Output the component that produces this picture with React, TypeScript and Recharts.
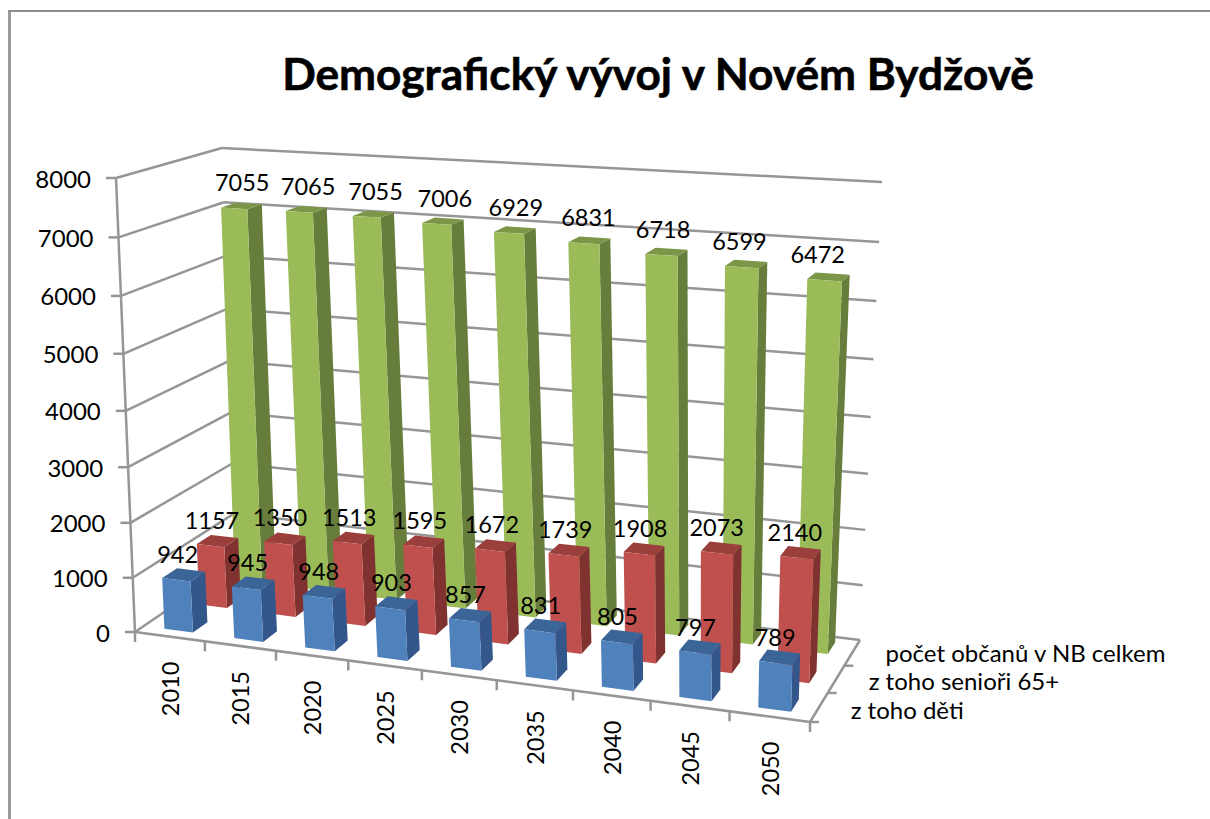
import React from 'react';
import { Bar, BarChart, CartesianGrid, Customized, LabelList, XAxis, YAxis } from 'recharts';

const years = ['2010', '2015', '2020', '2025', '2030', '2035', '2040', '2045', '2050'];
const deti = [942, 945, 948, 903, 857, 831, 805, 797, 789];
const seniori = [1157, 1350, 1513, 1595, 1672, 1739, 1908, 2073, 2140];
const celkem = [7055, 7065, 7055, 7006, 6929, 6831, 6718, 6599, 6472];
const yTicks = [0, 1000, 2000, 3000, 4000, 5000, 6000, 7000, 8000];
const seriesNames = ['z toho děti', 'z toho senioři 65+', 'počet občanů v NB celkem'];

const tableData = years.map((year, i) => ({ year, deti: deti[i], seniori: seniori[i], celkem: celkem[i] }));

const FONT = 'Lato, sans-serif';
const GRID = '#969696';

// flat plot rectangle the library scales work in, it gets projected to the 3D box afterwards
const PLOT = { left: 100, top: 100, width: 900, height: 600 };
const BAR_SIZE = 41;
const HEIGHT_PERSPECTIVE = 1.053;

type Pt = [number, number];

// square to quad homography
const makeQuad = (p0: Pt, p1: Pt, p2: Pt, p3: Pt) => {
    const dx1 = p1[0] - p2[0], dx2 = p3[0] - p2[0], sx = p0[0] - p1[0] + p2[0] - p3[0];
    const dy1 = p1[1] - p2[1], dy2 = p3[1] - p2[1], sy = p0[1] - p1[1] + p2[1] - p3[1];
    const den = dx1 * dy2 - dx2 * dy1;
    const g = (sx * dy2 - dx2 * sy) / den;
    const h = (dx1 * sy - sx * dy1) / den;
    const a = p1[0] - p0[0] + g * p1[0], b = p3[0] - p0[0] + h * p3[0];
    const d = p1[1] - p0[1] + g * p1[1], e = p3[1] - p0[1] + h * p3[1];
    return (u: number, w: number): Pt => {
        const q = g * u + h * w + 1;
        return [(a * u + b * w + p0[0]) / q, (d * u + e * w + p0[1]) / q];
    };
};

// corners: front left, front right, back right, back left
const floor = makeQuad([135, 632], [810, 722], [860, 640], [236, 563]);
const ceiling = makeQuad([116, 178], [828, 222], [882, 182], [222, 148]);

const project = (u: number, w: number, v: number): Pt => {
    const a = floor(u, w);
    const b = ceiling(u, w);
    const t = v / (v + (1 - v) * HEIGHT_PERSPECTIVE);
    return [a[0] + (b[0] - a[0]) * t, a[1] + (b[1] - a[1]) * t];
};

const toU = (x: number) => (x - PLOT.left) / PLOT.width;
const toV = (y: number) => (PLOT.top + PLOT.height - y) / PLOT.height;
const pts = (list: Pt[]) => list.map((p) => `${p[0].toFixed(1)},${p[1].toFixed(1)}`).join(' ');

const Seg = ({ a, b, width = 2.5 }: { a: Pt; b: Pt; width?: number }) => (
    <line x1={a[0]} y1={a[1]} x2={b[0]} y2={b[1]} stroke={GRID} strokeWidth={width} />
);

const Box3D = (props: any) => {
    const { x, y, width, height, depth, colors } = props;
    const u0 = toU(x);
    const u1 = toU(x + width);
    const v = toV(y);
    const vBase = toV(y + height);
    const [w0, w1] = depth;
    return (
        <g>
            <polygon points={pts([project(u1, w0, vBase), project(u1, w1, vBase), project(u1, w1, v), project(u1, w0, v)])} fill={colors[1]} />
            <polygon points={pts([project(u0, w0, v), project(u1, w0, v), project(u1, w1, v), project(u0, w1, v)])} fill={colors[2]} />
            <polygon points={pts([project(u0, w0, vBase), project(u1, w0, vBase), project(u1, w0, v), project(u0, w0, v)])} fill={colors[0]} />
        </g>
    );
};

const BarValue = (props: any) => {
    const { x, y, width, value, depth } = props;
    const u = toU(x + width / 2);
    const v = toV(y);
    // labels don't lean with the bars as much, so x is read lower down the front face
    const lx = project(u, depth[0], v * 0.45)[0];
    const ly = project(u, depth[0], v)[1] - 26;
    return (
        <text x={lx} y={ly} textAnchor="middle" dominantBaseline="central" fontFamily={FONT} fontSize={23.5} fill="#000">
            {value}
        </text>
    );
};

// walls per y gridline, the zero line also draws the floor frame
const WallLine = (props: any) => {
    const v = toV(props.y1);
    const front = project(0, 0, v);
    const back = project(0, 1, v);
    const right = project(1, 1, v);
    return (
        <g>
            <Seg a={front} b={back} />
            <Seg a={back} b={right} />
            {Math.abs(v) < 0.001 && (
                <>
                    <Seg a={project(0, 0, 0)} b={project(0, 0, 1)} />
                    <Seg a={project(0, 0, 0)} b={project(1, 0, 0)} />
                    <Seg a={project(1, 0, 0)} b={project(1, 1, 0)} />
                    {[0, 1 / 3, 2 / 3].map((w) => {
                        const p = project(1, w, 0);
                        return <Seg key={w} a={p} b={[p[0] + 9, p[1]]} />;
                    })}
                </>
            )}
        </g>
    );
};

const YTick = (props: any) => {
    const { y, payload } = props;
    const front = project(0, 0, toV(y));
    return (
        <g>
            <Seg a={[front[0] - 10, front[1]]} b={front} />
            <text x={front[0] - 25} y={front[1]} textAnchor="end" dominantBaseline="central" fontFamily={FONT} fontSize={24} fill="#000">
                {payload.value}
            </text>
        </g>
    );
};

const XTick = (props: any) => {
    const { x, index, payload } = props;
    const u = toU(x);
    const half = 0.5 / years.length;
    const p = project(u, 0, 0);
    const left = project(u - half, 0, 0);
    const right = project(u + half, 0, 0);
    const ly = p[1] + 25;
    return (
        <g>
            <Seg a={left} b={[left[0], left[1] + 10]} />
            {index === years.length - 1 && <Seg a={right} b={[right[0], right[1] + 10]} />}
            <text
                x={p[0]}
                y={ly}
                transform={`rotate(-90 ${p[0]} ${ly})`}
                textAnchor="end"
                dominantBaseline="central"
                fontFamily={FONT}
                fontSize={23.5}
                fill="#000"
            >
                {payload.value}
            </text>
        </g>
    );
};

const depths: [number, number][] = [[0.08, 0.22], [0.415, 0.555], [0.78, 0.93]];

const Overlay = () => (
    <g>
        <text x={658} y={72} textAnchor="middle" dominantBaseline="central" fontFamily={FONT} fontWeight={700} fontSize={44.2} fill="#000" stroke="#000" strokeWidth={0.6}>
            Demografický vývoj v Novém Bydžově
        </text>
        {seriesNames.map((name, i) => {
            const p = project(1, [0.16, 0.51, 0.86][i], 0);
            return (
                <text key={name} x={p[0] + 32} y={p[1] + 2} dominantBaseline="central" fontFamily={FONT} fontSize={24} fill="#000">
                    {name}
                </text>
            );
        })}
    </g>
);

const App: React.FC = () => (
    <div style={{ position: 'absolute', left: 0, top: 0, width: 1210, height: 819, overflow: 'hidden', background: '#fff' }}>
        <div style={{ position: 'absolute', left: 8, top: 10, right: 0, bottom: 0, borderLeft: '3px solid #999', borderTop: '2px solid #8c8c8c' }} />
        <BarChart
            width={1210}
            height={819}
            data={tableData}
            margin={{ top: PLOT.top, left: PLOT.left - 60, right: 1210 - PLOT.left - PLOT.width, bottom: 819 - PLOT.top - PLOT.height - 30 }}
            barSize={BAR_SIZE}
            barGap={-BAR_SIZE}
            style={{ position: 'absolute', left: 0, top: 0 }}
        >
            <CartesianGrid vertical={false} horizontal={WallLine} />
            <XAxis dataKey="year" height={30} axisLine={false} tickLine={false} interval={0} tick={XTick} />
            <YAxis width={60} domain={[0, 8000]} ticks={yTicks} axisLine={false} tickLine={false} interval={0} tick={YTick} />
            <Bar
                dataKey="celkem"
                isAnimationActive={false}
                shape={(p: any) => <Box3D {...p} depth={depths[2]} colors={['#9BBB59', '#667D3B', '#7B9647']} />}
            >
                <LabelList dataKey="celkem" content={(p: any) => <BarValue {...p} depth={depths[2]} />} />
            </Bar>
            <Bar
                dataKey="seniori"
                isAnimationActive={false}
                shape={(p: any) => <Box3D {...p} depth={depths[1]} colors={['#C0504D', '#7F322F', '#9B3F3C']} />}
            >
                <LabelList dataKey="seniori" content={(p: any) => <BarValue {...p} depth={depths[1]} />} />
            </Bar>
            <Bar
                dataKey="deti"
                isAnimationActive={false}
                shape={(p: any) => <Box3D {...p} depth={depths[0]} colors={['#4F81BD', '#33578A', '#3B6497']} />}
            >
                <LabelList dataKey="deti" content={(p: any) => <BarValue {...p} depth={depths[0]} />} />
            </Bar>
            <Customized component={Overlay} />
        </BarChart>
    </div>
);

export default App;
